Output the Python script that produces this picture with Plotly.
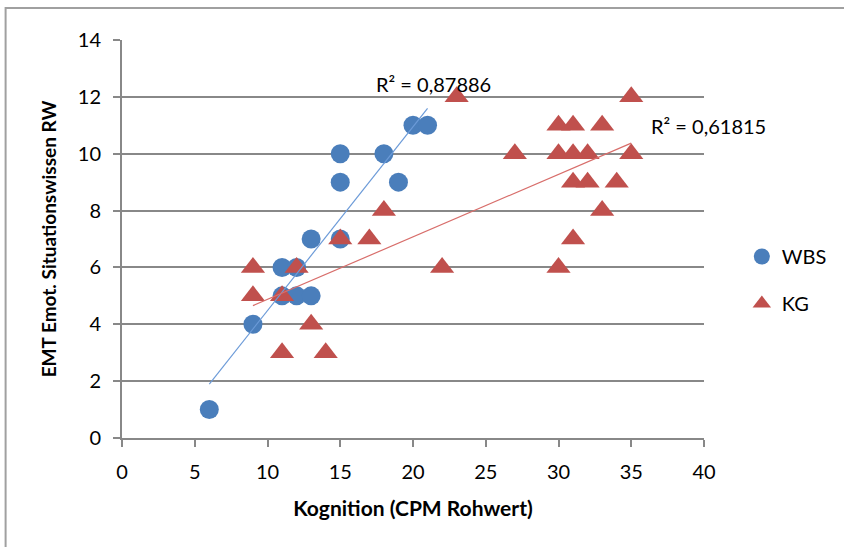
import numpy as np
import plotly.graph_objects as go

# Data
wbs_x = [6, 9, 11, 11, 12, 12, 13, 13, 15, 15, 15, 18, 19, 20, 21]
wbs_y = [1, 4, 5, 6, 5, 6, 5, 7, 7, 9, 10, 10, 9, 11, 11]
kg_x = [9, 9, 11, 11, 12, 13, 14, 15, 17, 18, 22, 23, 27, 30, 30, 30, 31, 31, 31, 31, 32, 32, 33, 33, 34, 35, 35]
kg_y = [5, 6, 3, 5, 6, 4, 3, 7, 7, 8, 6, 12, 10, 6, 10, 11, 7, 9, 10, 11, 9, 10, 8, 11, 9, 10, 12]
r2_labels = ["R² = 0,87886", "R² = 0,61815"]
x_ticks = [0, 5, 10, 15, 20, 25, 30, 35, 40]
y_ticks = [0, 2, 4, 6, 8, 10, 12, 14]

BLUE = "#4A7EBB"
RED = "#C0504D"
FONT = "Lato"

def trend(xs, ys):
    m, b = np.polyfit(xs, ys, 1)
    x0, x1 = min(xs), max(xs)
    return [x0, x1], [m * x0 + b, m * x1 + b]

fig = go.Figure()
fig.add_trace(go.Scatter(x=wbs_x, y=wbs_y, mode="markers", name="WBS", legendgroup="a",
                         marker=dict(symbol="circle", size=19, color=BLUE, line=dict(width=0))))
fig.add_trace(go.Scatter(x=kg_x, y=kg_y, mode="markers", name="KG", legendgroup="b",
                         marker=dict(symbol="triangle-up", size=21, color=RED, line=dict(width=0))))
tx, ty = trend(wbs_x, wbs_y)
fig.add_trace(go.Scatter(x=tx, y=ty, mode="lines", showlegend=False, line=dict(color="#6C9BD8", width=1.2)))
tx2, ty2 = trend(kg_x, kg_y)
fig.add_trace(go.Scatter(x=tx2, y=ty2, mode="lines", showlegend=False, line=dict(color="#D86E6B", width=1.2)))

fig.add_annotation(x=21.4, y=12.45, text=r2_labels[0], showarrow=False, xanchor="center",
                   font=dict(family=FONT, size=20, color="#000"))
fig.add_annotation(xref="paper", x=1.0075, y=10.97, text=r2_labels[1], showarrow=False, xanchor="center",
                   font=dict(family=FONT, size=20, color="#000"))

# chart area border
fig.add_shape(type="rect", xref="paper", yref="paper",
              x0=-0.2, x1=1.4, y0=-0.35, y1=1.0805,
              line=dict(color="#A0A0A0", width=2), fillcolor="rgba(0,0,0,0)", layer="below")

fig.update_layout(
    width=844, height=547,
    margin=dict(l=122, r=138, t=40, b=109),
    paper_bgcolor="white", plot_bgcolor="white",
    font=dict(family=FONT, size=20, color="#000"),
    showlegend=True,
    legend=dict(x=1.065, y=0.397, xanchor="left", yanchor="middle",
                font=dict(family=FONT, size=20), tracegroupgap=18),
    xaxis=dict(range=[0, 40], tickvals=x_ticks, showgrid=False, zeroline=False,
               showline=True, linecolor="#888888", linewidth=2,
               ticks="outside", ticklen=7, tickcolor="#888888", tickwidth=2,
               ticklabelstandoff=8, tickfont=dict(family=FONT, size=20),
               title=dict(text="<b>Kognition (CPM Rohwert)</b>", font=dict(family=FONT, size=21), standoff=19)),
    yaxis=dict(range=[0, 14], tickvals=y_ticks, showgrid=True, gridcolor="#888888", gridwidth=2,
               zeroline=False, showline=True, linecolor="#888888", linewidth=2,
               ticks="outside", ticklen=7, tickcolor="#888888", tickwidth=2,
               ticklabelstandoff=8, tickfont=dict(family=FONT, size=20),
               title=dict(text="<b>EMT Emot. Situationswissen RW</b>", font=dict(family=FONT, size=19), standoff=16)),
)

fig.write_html("out.html")
